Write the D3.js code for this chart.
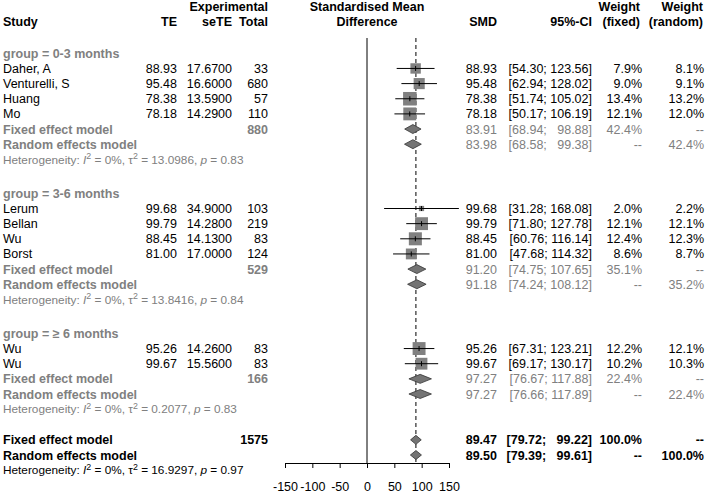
<!DOCTYPE html>
<html>
<head>
<meta charset="utf-8">
<script src="https://cdn.jsdelivr.net/npm/d3@7"></script>
<style>
	body { margin: 0; background: #fff; }
	svg text { font-family: "Liberation Sans", Arial, sans-serif; white-space: pre; }
</style>
</head>
<body>
<div id="chart"></div>
<script>
var groupNames = ['0-3 months', '3-6 months', '\u2265 6 months'];

var studyNames = ['Daher, A', 'Venturelli, S', 'Huang', 'Mo', 'Lerum', 'Bellan', 'Wu', 'Borst', 'Wu', 'Wu'];
var studyGroup = [0, 0, 0, 0, 1, 1, 1, 1, 2, 2];
var te = [88.93, 95.48, 78.38, 78.18, 99.68, 99.79, 88.45, 81.00, 95.26, 99.67];
var seTE = [17.67, 16.60, 13.59, 14.29, 34.90, 14.28, 14.13, 17.00, 14.26, 15.56];
var totals = [33, 680, 57, 110, 103, 219, 83, 124, 83, 83];
var ciLow = [54.30, 62.94, 51.74, 50.17, 31.28, 71.80, 60.76, 47.68, 67.31, 69.17];
var ciHigh = [123.56, 128.02, 105.02, 106.19, 168.08, 127.78, 116.14, 114.32, 123.21, 130.17];
var wFixed = [7.9, 9.0, 13.4, 12.1, 2.0, 12.1, 12.4, 8.6, 12.2, 10.2];
var wRandom = [8.1, 9.1, 13.2, 12.0, 2.2, 12.1, 12.3, 8.7, 12.1, 10.3];

var subTotals = [880, 529, 166];
var subFixed = [83.91, 91.20, 97.27];
var subFixedLow = [68.94, 74.75, 76.67];
var subFixedHigh = [98.88, 107.65, 117.88];
var subFixedW = [42.4, 35.1, 22.4];
var subRandom = [83.98, 91.18, 97.27];
var subRandomLow = [68.58, 74.24, 76.66];
var subRandomHigh = [99.38, 108.12, 117.89];
var subRandomW = [42.4, 35.2, 22.4];
var subI2 = [0, 0, 0];
var subTau2 = ['13.0986', '13.8416', '0.2077'];
var subP = ['0.83', '0.84', '0.83'];

var overallTotal = 1575;
var overallFixed = [89.47, 79.72, 99.22];
var overallRandom = [89.50, 79.39, 99.61];
var overallI2 = 0, overallTau2 = '16.9297', overallP = '0.97';

var axisTicks = [-150, -100, -50, 0, 50, 100, 150];

var W = 708, H = 494;
var fs = 12.5, hetFs = 11.8;
var grey = '#808080';
var col = { study: 3, te: 177, se: 232, total: 268, smd: 497, ci: 592, wf: 642, wr: 704 };

var x = d3.scaleLinear().domain([-150, 150]).range([285, 449]);
var f2 = d3.format('.2f'), f4 = d3.format('.4f'), f1 = d3.format('.1f');

function ciText(lo, hi) {
	var h = f2(hi);
	if (h.length < 6) h = '  ' + h;
	return '[' + f2(lo) + '; ' + h + ']';
}

// build the row list
var rows = [], y = 53.3, step = 15.15;
groupNames.forEach(function (g, gi) {
	rows.push({ type: 'group', y: y, g: gi }); y += step;
	studyGroup.forEach(function (sg, i) {
		if (sg === gi) { rows.push({ type: 'study', y: y, i: i }); y += step; }
	});
	rows.push({ type: 'subfixed', y: y, g: gi }); y += step;
	rows.push({ type: 'subrandom', y: y, g: gi }); y += step;
	rows.push({ type: 'subhet', y: y, g: gi });
	y += (gi < groupNames.length - 1) ? 34 : 30.7;
});
rows.push({ type: 'fixed', y: y }); y += step;
rows.push({ type: 'random', y: y }); y += step;
rows.push({ type: 'het', y: y });

var svg = d3.select('#chart').append('svg')
	.attr('width', W)
	.attr('height', H);

svg.append('rect').attr('width', W).attr('height', H).attr('fill', '#fff');

function txt(xp, yp, s, opt) {
	opt = opt || {};
	return svg.append('text')
		.attr('x', xp)
		.attr('y', yp)
		.attr('dy', '0.36em')
		.attr('font-size', opt.size || fs)
		.attr('font-weight', opt.bold ? 'bold' : 'normal')
		.attr('fill', opt.color || '#000')
		.attr('text-anchor', opt.anchor || 'start')
		.text(s);
}

// header
var h1 = 6.5, h2 = 21.5;
txt(col.total, h1, 'Experimental', { bold: true, anchor: 'end' });
txt(col.study, h2, 'Study', { bold: true });
txt(col.te, h2, 'TE', { bold: true, anchor: 'end' });
txt(col.se, h2, 'seTE', { bold: true, anchor: 'end' });
txt(col.total, h2, 'Total', { bold: true, anchor: 'end' });
txt(x(0), h1, 'Standardised Mean', { bold: true, anchor: 'middle' });
txt(x(0), h2, 'Difference', { bold: true, anchor: 'middle' });
txt(col.smd, h2, 'SMD', { bold: true, anchor: 'end' });
txt(col.ci, h2, '95%-CI', { bold: true, anchor: 'end' });
txt(col.wf - 2, h1, 'Weight', { bold: true, anchor: 'end' });
txt(col.wf - 2, h2, '(fixed)', { bold: true, anchor: 'end' });
txt(col.wr - 1, h1, 'Weight', { bold: true, anchor: 'end' });
txt(col.wr - 1, h2, '(random)', { bold: true, anchor: 'end' });

// reference lines
var lineTop = 38, axisY = 463;
svg.append('line')
	.attr('x1', x(0)).attr('x2', x(0))
	.attr('y1', lineTop).attr('y2', axisY)
	.attr('stroke', '#000').attr('stroke-width', 1);
svg.append('line')
	.attr('x1', x(overallFixed[0])).attr('x2', x(overallFixed[0]))
	.attr('y1', lineTop).attr('y2', axisY)
	.attr('stroke', '#000').attr('stroke-width', 1)
	.attr('stroke-dasharray', '4,3');

function hetLine(yp, i2, tau2, p, color) {
	var t = txt(col.study, yp, null, { size: hetFs, color: color });
	t.append('tspan').text('Heterogeneity: ');
	t.append('tspan').attr('font-style', 'italic').text('I');
	t.append('tspan').attr('dy', -4.5).attr('font-size', hetFs * 0.75).text('2');
	t.append('tspan').attr('dy', 4.5).text(' = ' + i2 + '%, \u03c4');
	t.append('tspan').attr('dy', -4.5).attr('font-size', hetFs * 0.75).text('2');
	t.append('tspan').attr('dy', 4.5).text(' = ' + tau2 + ', ');
	t.append('tspan').attr('font-style', 'italic').text('p');
	t.append('tspan').text(' = ' + p);
}

function diamond(yp, est, lo, hi) {
	var h = 4.5;
	svg.append('polygon')
		.attr('points', [[x(lo), yp], [x(est), yp - h], [x(hi), yp], [x(est), yp + h]].join(' '))
		.attr('fill', '#747474')
		.attr('stroke', '#333')
		.attr('stroke-width', 0.8);
}

rows.forEach(function (r) {
	var i = r.i, g = r.g;
	if (r.type === 'group') {
		txt(col.study, r.y, 'group = ' + groupNames[g], { bold: true, color: grey });
	}
	else if (r.type === 'study') {
		txt(col.study, r.y, studyNames[i]);
		txt(col.te, r.y, f2(te[i]), { anchor: 'end' });
		txt(col.se, r.y, f4(seTE[i]), { anchor: 'end' });
		txt(col.total, r.y, totals[i], { anchor: 'end' });
		txt(col.smd, r.y, f2(te[i]), { anchor: 'end' });
		txt(col.ci, r.y, ciText(ciLow[i], ciHigh[i]), { anchor: 'end' });
		txt(col.wf, r.y, f1(wFixed[i]) + '%', { anchor: 'end' });
		txt(col.wr, r.y, f1(wRandom[i]) + '%', { anchor: 'end' });

		var s = 3.7 * Math.sqrt(wFixed[i]);
		svg.append('rect')
			.attr('x', x(te[i]) - s / 2).attr('y', r.y - s / 2)
			.attr('width', s).attr('height', s)
			.attr('fill', grey);
		svg.append('line')
			.attr('x1', x(ciLow[i])).attr('x2', x(ciHigh[i]))
			.attr('y1', r.y).attr('y2', r.y)
			.attr('stroke', '#000').attr('stroke-width', 1);
		svg.append('line')
			.attr('x1', x(te[i])).attr('x2', x(te[i]))
			.attr('y1', r.y - 2.5).attr('y2', r.y + 2.5)
			.attr('stroke', '#000').attr('stroke-width', 1);
	}
	else if (r.type === 'subfixed') {
		txt(col.study, r.y, 'Fixed effect model', { bold: true, color: grey });
		txt(col.total, r.y, subTotals[g], { bold: true, color: grey, anchor: 'end' });
		txt(col.smd, r.y, f2(subFixed[g]), { color: grey, anchor: 'end' });
		txt(col.ci, r.y, ciText(subFixedLow[g], subFixedHigh[g]), { color: grey, anchor: 'end' });
		txt(col.wf, r.y, f1(subFixedW[g]) + '%', { color: grey, anchor: 'end' });
		txt(col.wr, r.y, '--', { color: grey, anchor: 'end' });
		diamond(r.y, subFixed[g], subFixedLow[g], subFixedHigh[g]);
	}
	else if (r.type === 'subrandom') {
		txt(col.study, r.y, 'Random effects model', { bold: true, color: grey });
		txt(col.smd, r.y, f2(subRandom[g]), { color: grey, anchor: 'end' });
		txt(col.ci, r.y, ciText(subRandomLow[g], subRandomHigh[g]), { color: grey, anchor: 'end' });
		txt(col.wf, r.y, '--', { color: grey, anchor: 'end' });
		txt(col.wr, r.y, f1(subRandomW[g]) + '%', { color: grey, anchor: 'end' });
		diamond(r.y, subRandom[g], subRandomLow[g], subRandomHigh[g]);
	}
	else if (r.type === 'subhet') {
		hetLine(r.y, subI2[g], subTau2[g], subP[g], grey);
	}
	else if (r.type === 'fixed') {
		txt(col.study, r.y, 'Fixed effect model', { bold: true });
		txt(col.total, r.y, overallTotal, { bold: true, anchor: 'end' });
		txt(col.smd, r.y, f2(overallFixed[0]), { bold: true, anchor: 'end' });
		txt(col.ci, r.y, ciText(overallFixed[1], overallFixed[2]), { bold: true, anchor: 'end' });
		txt(col.wf, r.y, '100.0%', { bold: true, anchor: 'end' });
		txt(col.wr, r.y, '--', { bold: true, anchor: 'end' });
		diamond(r.y, overallFixed[0], overallFixed[1], overallFixed[2]);
	}
	else if (r.type === 'random') {
		txt(col.study, r.y, 'Random effects model', { bold: true });
		txt(col.smd, r.y, f2(overallRandom[0]), { bold: true, anchor: 'end' });
		txt(col.ci, r.y, ciText(overallRandom[1], overallRandom[2]), { bold: true, anchor: 'end' });
		txt(col.wf, r.y, '--', { bold: true, anchor: 'end' });
		txt(col.wr, r.y, '100.0%', { bold: true, anchor: 'end' });
		diamond(r.y, overallRandom[0], overallRandom[1], overallRandom[2]);
	}
	else if (r.type === 'het') {
		hetLine(r.y, overallI2, overallTau2, overallP, '#000');
	}
});

// x axis
var axis = svg.append('g')
	.attr('transform', 'translate(0,' + axisY + ')')
	.call(d3.axisBottom(x)
		.tickValues(axisTicks)
		.tickFormat(function (d) { return String(d); })
		.tickSize(5)
		.tickSizeOuter(0)
		.tickPadding(14));
axis.selectAll('text')
	.attr('font-size', fs)
	.attr('font-family', '"Liberation Sans", Arial, sans-serif')
	.attr('fill', '#000');
axis.selectAll('line, path').attr('stroke', '#000');
</script>
</body>
</html>
